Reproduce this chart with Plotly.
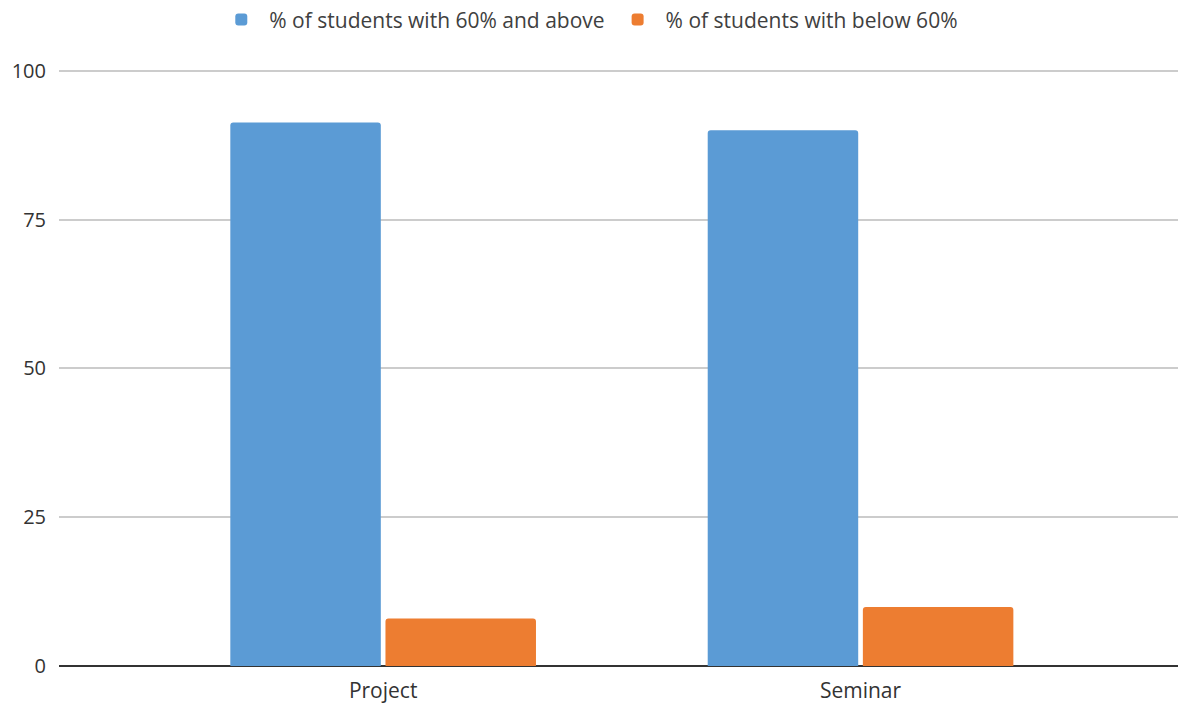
import plotly.graph_objects as go

categories = ["Project", "Seminar"]
above_60 = [91.3, 90.0]
below_60 = [8.0, 9.9]
series_names = ["% of students with 60% and above", "% of students with below 60%"]
y_ticks = [0, 25, 50, 75, 100]

fig = go.Figure()
fig.add_trace(go.Bar(x=categories, y=above_60, name=series_names[0],
                     marker=dict(color="#5B9BD5", line=dict(width=0))))
fig.add_trace(go.Bar(x=categories, y=below_60, name=series_names[1],
                     marker=dict(color="#ED7D31", line=dict(width=0))))

fig.update_layout(
    width=1178, height=706,
    barmode="group", bargap=0.35, bargroupgap=0.03, barcornerradius=3,
    paper_bgcolor="white", plot_bgcolor="white",
    margin=dict(l=59, r=0, t=69, b=40, autoexpand=False),
    font=dict(family="Open Sans, Noto Sans, sans-serif", size=20, color="#404040"),
    legend=dict(orientation="h", x=0.473, xanchor="center", y=0.972, yanchor="middle",
                yref="container", font=dict(size=21, color="#404040"),
                itemwidth=46),
    showlegend=True,
    xaxis=dict(type="category", range=[-0.679, 1.665], showgrid=False, showline=False,
               automargin=False, ticks="", tickfont=dict(size=21, color="#333333"),
               ticklabelstandoff=10),
    yaxis=dict(range=[0, 100.3], tickvals=y_ticks, showgrid=True, gridcolor="#CCCCCC",
               gridwidth=1.5, zeroline=True, zerolinecolor="#333333", zerolinewidth=2,
               automargin=False, ticks="", tickfont=dict(size=20, color="#333333"),
               ticklabelstandoff=12),
)

fig.write_html("out.html", config={"displayModeBar": False},
               post_script="document.body.style.margin='0';document.body.style.overflow='hidden';")
